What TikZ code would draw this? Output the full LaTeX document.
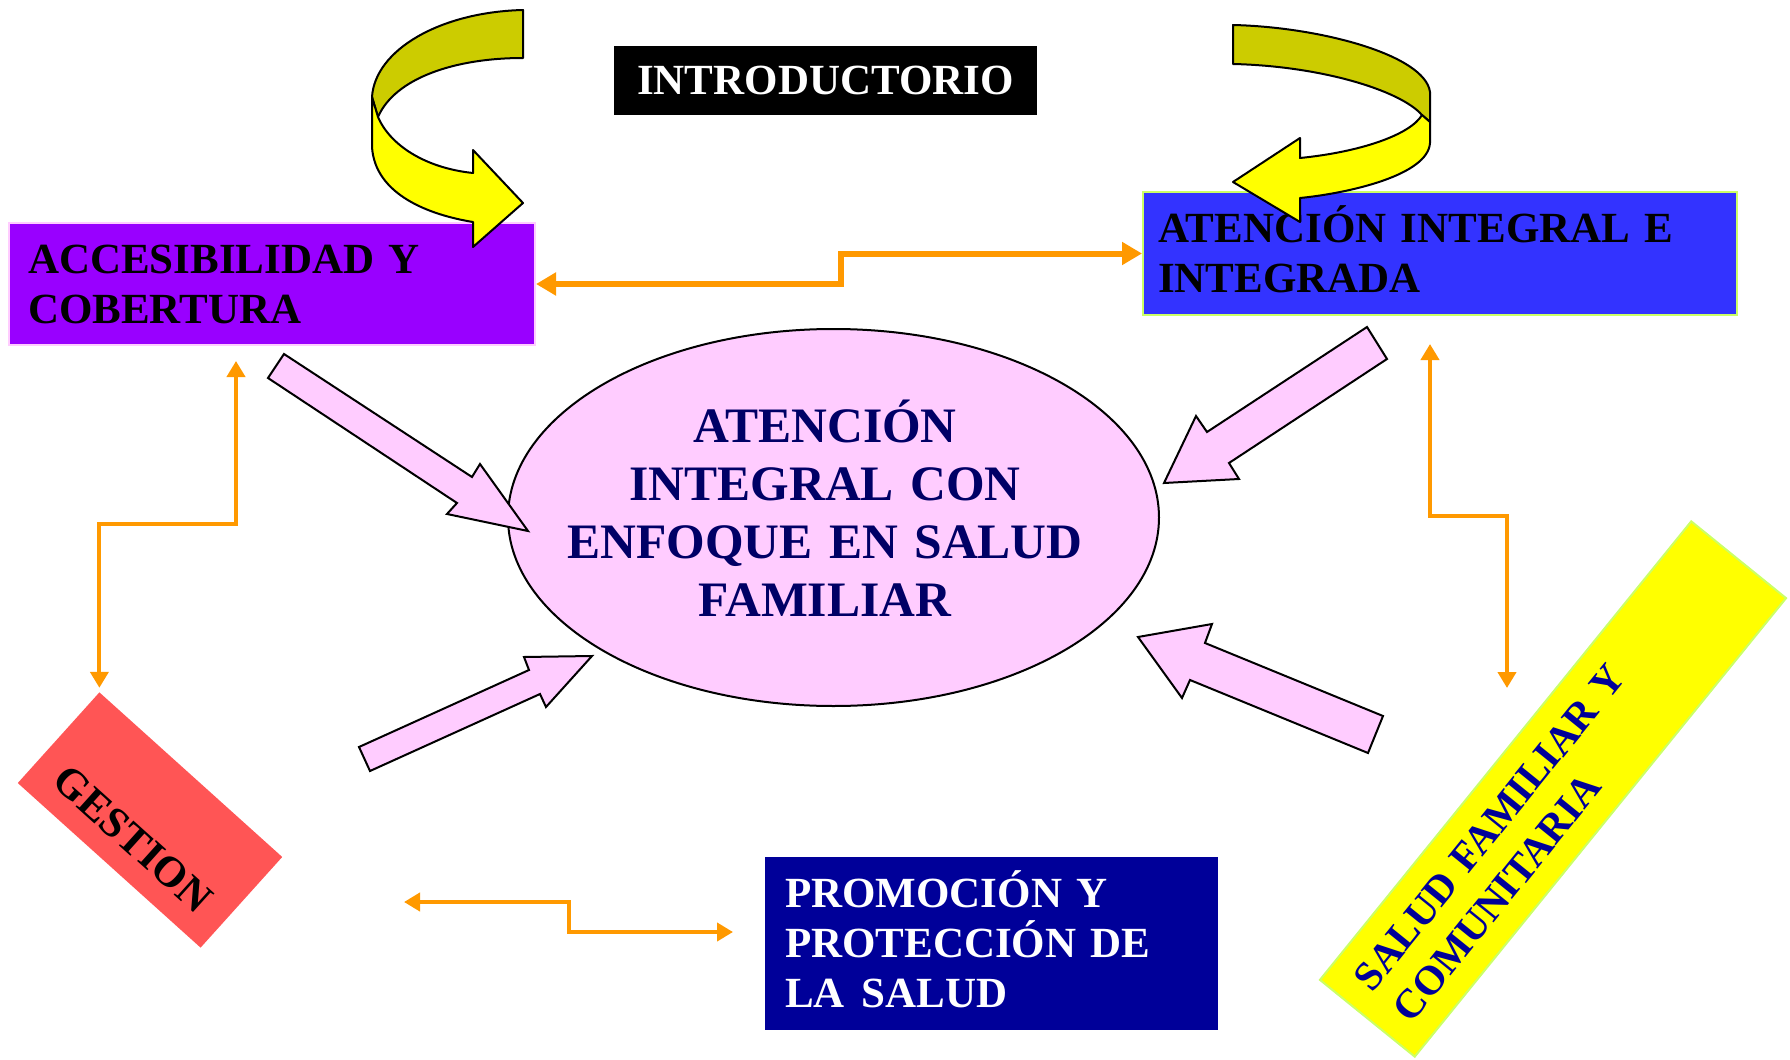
\documentclass[tikz,border=0pt]{standalone}
\usepackage{fontspec}
\setmainfont{Liberation Serif}
\usetikzlibrary{shapes.geometric,arrows.meta}

\definecolor{violet}{HTML}{9900FF}
\definecolor{pinkfill}{HTML}{FFCCFF}
\definecolor{bluebox}{HTML}{3333FF}
\definecolor{lime}{HTML}{CCFF66}
\definecolor{navy}{HTML}{000099}
\definecolor{ink}{HTML}{000066}
\definecolor{orange}{HTML}{FF9900}
\definecolor{olive}{HTML}{CCCC00}
\definecolor{yellow}{HTML}{FFFF00}
\definecolor{redbox}{HTML}{FF5555}

\begin{document}
\begin{tikzpicture}[x=.5pt,y=-.5pt,
		box/.style={rectangle,inner sep=0pt,text height=14.3pt,align=left,font=\fontsize{21.5}{25}\selectfont\bfseries},
		link/.style={draw=orange,line width=2pt,<->,>={Triangle[length=8pt,width=9pt]}},
		fat/.style={draw=black,fill=pinkfill,line width=1pt,line join=miter},
		curl/.style={draw=black,line width=1pt,line join=round}]
	\useasboundingbox (0,0) rectangle (1790,1060);
	\fill[white] (0,0) rectangle (1790,1060);
	\node[box,fill=black,text=white,minimum width=211.5pt,minimum height=34.5pt,align=center] (intro) at (825.5,80.5) {INTRODUCTORIO};
	\node[box,fill=violet,draw=pinkfill,line width=1pt,minimum width=263pt,minimum height=61pt,inner xsep=9.5pt,text width=244pt] (acc) at (272,284) {ACCESIBILIDAD Y\\COBERTURA};
	\node[box,fill=bluebox,draw=lime,line width=1pt,minimum width=297pt,minimum height=61.5pt,inner xsep=7.5pt,text width=282pt] (aig) at (1440,253.5) {ATENCIÓN INTEGRAL E\\INTEGRADA};
	\node[box,fill=navy,text=white,minimum width=226.5pt,minimum height=86.5pt,inner xsep=10pt,text width=206.5pt] (promo) at (991.5,943.5) {PROMOCIÓN Y\\PROTECCIÓN DE\\LA\hspace{.4em}SALUD};
	\node[rectangle,fill=redbox,rotate=-42,minimum width=123pt,minimum height=61pt] (gest) at (150,820) {};
	\node[box,rotate=-42] (gesttxt) at (133,839) {GESTION};
	\node[box,rotate=51,fill=yellow,draw=lime,line width=1pt,text=navy,minimum width=295pt,minimum height=61pt,inner xsep=11.5pt,text width=272pt,text height=13.6pt,font=\fontsize{20.5}{25}\selectfont\bfseries] (salud) at (1553,789) {SALUD FAMILIAR Y\\COMUNITARIA};
	\node[ellipse,draw=black,fill=pinkfill,line width=1pt,minimum width=325.5pt,minimum height=188.5pt,inner sep=0pt] (hub) at (833.5,517.5) {};
	\node[box,align=center,text=ink,text width=300pt,text height=16.4pt,font=\fontsize{24.8}{29}\selectfont\bfseries] (hubtxt) at (825,513) {ATENCIÓN\\INTEGRAL CON\\ENFOQUE EN SALUD\\FAMILIAR};

	\coordinate (accS) at (236,361);
	\coordinate (aigS) at (1430,344);
	\coordinate (saludN) at (1507,688);
	\coordinate (gestE) at (404,902);
	\coordinate (promoW) at (733,932);
	\draw[link,line width=3pt,>={Triangle[length=10pt,width=11pt]}] (acc.east) -- ++(305,0) |- (aig.west);
	\draw[link,shorten >=2pt] (accS) -- (236,524) -| (gest.north west);
	\draw[link] (aigS) -- (1430,516) -| (saludN);
	\draw[link] (gestE) -- (569,902) |- (promoW);

	\draw[fat] (284,354) -- (472,477) -- (480,464) -- (528,531) -- (447,514) -- (457,503) -- (268,378) -- cycle;
	\draw[fat] (1367,327) -- (1387,359) -- (1229,463) -- (1239,479) -- (1164,483) -- (1196,416) -- (1207,432) -- cycle;
	\draw[fat] (359,747) -- (529,670) -- (524,657) -- (592,656) -- (546,707) -- (540,694) -- (370,771) -- cycle;
	\draw[fat] (1138,637) -- (1212,624) -- (1205,643) -- (1383,716) -- (1368,753) -- (1190,680) -- (1182,698) -- cycle;

	\draw[curl,fill=olive] (523,10) -- (523,58) .. controls (455,58) and (395,78) .. (378,117) -- (372,97) .. controls (375,50) and (440,12) .. (523,10) -- cycle;
	\draw[curl,fill=yellow] (372,97) -- (372,147) .. controls (375,195) and (430,215) .. (473,222) -- (473,247) -- (523,203) -- (473,150) -- (473,173) .. controls (425,168) and (390,145) .. (378,117) -- cycle;
	\draw[curl,fill=olive] (1233,25) .. controls (1320,27) and (1425,55) .. (1430,92) -- (1430,122) -- (1422,115) .. controls (1400,90) and (1320,66) .. (1233,64) -- cycle;
	\draw[curl,fill=yellow] (1422,115) -- (1430,122) -- (1430,143) .. controls (1428,175) and (1350,193) .. (1300,198) -- (1300,222) -- (1233,182) -- (1300,138) -- (1300,158) .. controls (1360,152) and (1410,135) .. (1422,115) -- cycle;
\end{tikzpicture}
\end{document}
